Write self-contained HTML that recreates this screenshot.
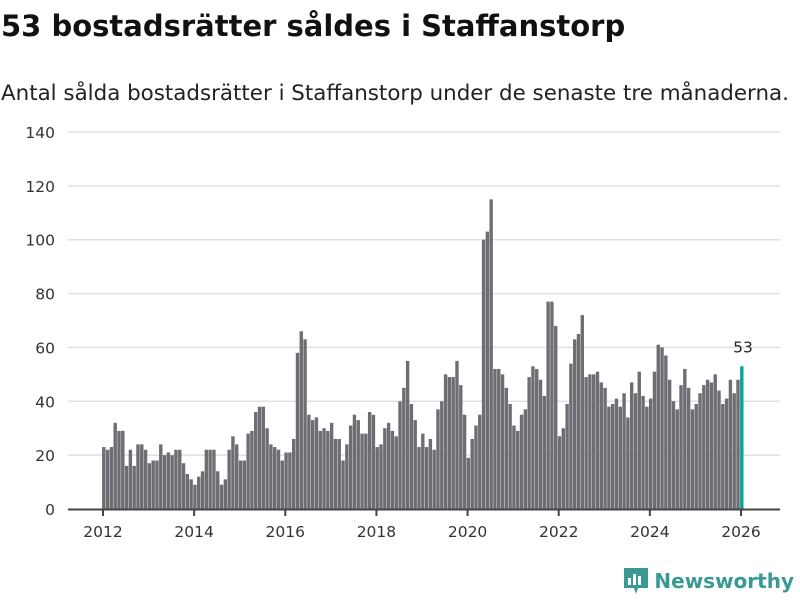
<!DOCTYPE html>
<html><head><meta charset="utf-8"><style>
body{margin:0;width:800px;height:600px;background:#fff;font-family:"DejaVu Sans","Liberation Sans",sans-serif;overflow:hidden;position:relative}
h1{position:absolute;left:1px;top:9px;margin:0;font-size:29px;font-weight:bold;color:#111;white-space:nowrap}
.sub{position:absolute;left:1px;top:81px;font-size:21.4px;color:#222;white-space:nowrap}
.logo{position:absolute;right:6px;top:568px;font-size:20px;font-weight:bold;color:#3a9a93;display:flex;align-items:center;gap:6px}
</style></head><body>
<h1>53 bostadsrätter såldes i Staffanstorp</h1>
<div class="sub">Antal sålda bostadsrätter i Staffanstorp under de senaste tre månaderna.</div>
<svg id="c" width="800" height="600" style="position:absolute;left:0;top:0"></svg>
<div class="logo"><svg width="24" height="26" viewBox="0 0 24 26"><path d="M0 0H24V20H14L12 26L10 20H0Z" fill="#3a9a93"/><rect x="4" y="10" width="3" height="7" fill="#fff"/><rect x="9" y="6" width="3" height="11" fill="#fff"/><rect x="14" y="8" width="3" height="9" fill="#fff"/></svg><span>Newsworthy</span></div>
<script>
const values=[23,22,23,32,29,29,16,22,16,24,24,22,
17,18,18,24,20,21,20,22,22,17,13,11,
9,12,14,22,22,22,14,9,11,22,27,24,
18,18,28,29,36,38,38,30,24,23,22,18,
21,21,26,58,66,63,35,33,34,29,30,29,
32,26,26,18,24,31,35,33,28,28,36,35,
23,24,30,32,29,27,40,45,55,39,33,23,
28,23,26,22,37,40,50,49,49,55,46,35,
19,26,31,35,100,103,115,52,52,50,45,39,
31,29,35,37,49,53,52,48,42,77,77,68,
27,30,39,54,63,65,72,49,50,50,51,47,
45,38,39,41,38,43,34,47,43,51,42,38,
41,51,61,60,57,48,40,37,46,52,45,37,
39,43,46,48,47,50,44,39,41,48,43,48,
53];
const startYear=2012;
const yTicks=[0,20,40,60,80,100,120,140];
const xTicks=[2012,2014,2016,2018,2020,2022,2024,2026];
const svg=document.getElementById('c');const NS='http://www.w3.org/2000/svg';
const y=v=>509-v*(377/140);
const x=t=>103+(t-2012)*(638/14);
function mk(tag,a){const e=document.createElementNS(NS,tag);for(const k in a)e.setAttribute(k,a[k]);svg.appendChild(e);return e;}
yTicks.forEach(v=>{
 if(v>0){const g=mk('line',{x1:68,x2:780,y1:y(v),y2:y(v),stroke:'#e0e0e0','stroke-width':1.5});
 
 }
 const t=mk('text',{x:55,y:y(v)+6,'text-anchor':'end','font-size':15.5,fill:'#333'});t.textContent=v;
 
 
});
const bw=638/14/12;
values.forEach((v,i)=>{
 const t=startYear+i/12;const last=i===values.length-1;
 const r=mk('rect',{x:x(t)-bw/2+1,y:y(v),width:bw-0.4,height:509-y(v),fill:last?'#0aa39a':'#6e6d74'});
 
 
 if(last){const l=mk('text',{x:x(t)+2,y:y(v)-14,'text-anchor':'middle','font-size':15.5,fill:'#222'});l.textContent=v;
 
 }
});
const ax=mk('line',{x1:68,x2:780,y1:509.5,y2:509.5,stroke:'#444','stroke-width':2});


xTicks.forEach(yr=>{
 const tk=mk('line',{x1:x(yr),x2:x(yr),y1:509,y2:516,stroke:'#444','stroke-width':2});
 
 
 const t=mk('text',{x:x(yr),y:537,'text-anchor':'middle','font-size':15.5,fill:'#333'});t.textContent=yr;
 
 
});
</script>
</body></html>
